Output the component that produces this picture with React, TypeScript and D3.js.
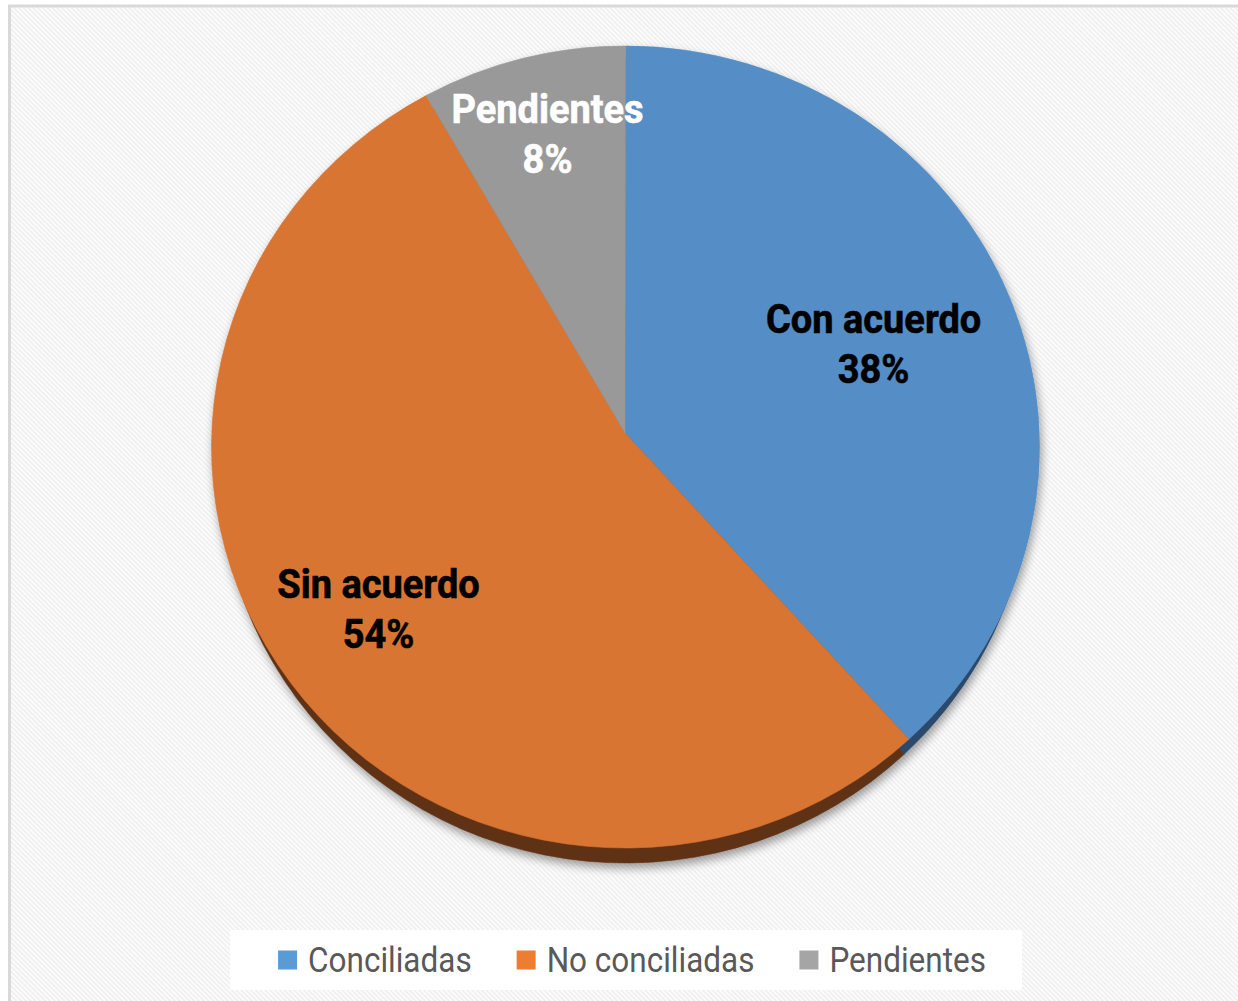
import React, { useEffect, useRef } from "react";
import * as d3 from "d3";

const categories = ["Conciliadas", "No conciliadas", "Pendientes"];
const values = [38, 54, 8];
const sliceLabels = ["Con acuerdo", "Sin acuerdo", "Pendientes"];
const percentLabels = ["38%", "54%", "8%"];

const faceColors = ["#548dc6", "#d97431", "#999999"];
const sideColors = ["#2a4a6c", "#5f3114", "#4d4d4d"];
const legendColors = ["#5b9bd5", "#ed7d31", "#a5a5a5"];
const labelColors = ["#000000", "#000000", "#ffffff"];

// label placement (fraction from apex toward rim at mid angle, plus nudge)
const labelLayout = [
  { f: 0.645, dx: 0, dy: -3 },
  { f: 0.737, dx: 0, dy: -8 },
  { f: 0.756, dx: 0, dy: -16 },
];

const W = 1238;
const H = 1001;

export default function App() {
  const ref = useRef<SVGSVGElement | null>(null);

  useEffect(() => {
    const svg = d3.select(ref.current);
    svg.selectAll("*").remove();

    const defs = svg.append("defs");
    const pat = defs
      .append("pattern")
      .attr("id", "hatch")
      .attr("patternUnits", "userSpaceOnUse")
      .attr("width", 3.4)
      .attr("height", 3.4)
      .attr("patternTransform", "rotate(-45)");
    pat.append("rect").attr("width", 3.4).attr("height", 3.4).attr("fill", "#fcfcfc");
    pat.append("rect").attr("width", 1.6).attr("height", 3.4).attr("fill", "#efefef");

    const filt = defs
      .append("filter")
      .attr("id", "shadow")
      .attr("x", "-10%")
      .attr("y", "-10%")
      .attr("width", "120%")
      .attr("height", "120%");
    filt.append("feGaussianBlur").attr("in", "SourceAlpha").attr("stdDeviation", 5).attr("result", "blur");
    filt.append("feOffset").attr("in", "blur").attr("dx", 2).attr("dy", 5).attr("result", "off");
    filt.append("feComponentTransfer").attr("in", "off").attr("result", "sh")
      .append("feFuncA").attr("type", "linear").attr("slope", 0.38);
    const merge = filt.append("feMerge");
    merge.append("feMergeNode").attr("in", "sh");
    merge.append("feMergeNode").attr("in", "SourceGraphic");

    // frame
    svg.append("rect").attr("x", 0).attr("y", 0).attr("width", W).attr("height", H).attr("fill", "#ffffff");
    svg
      .append("rect")
      .attr("x", 9.5)
      .attr("y", 6)
      .attr("width", 1260)
      .attr("height", 1020)
      .attr("fill", "url(#hatch)")
      .attr("stroke", "#d9d9d9")
      .attr("stroke-width", 3);

    // pie geometry (slightly tilted ellipse)
    const cx = 625.5, cy = 447, rx = 414, ry = 401;
    const apex = [625, 433];
    const depth = 15;
    const sideInset = 7;

    const pie = d3.pie<number>().sort(null).value((d) => d).startAngle(0).endAngle(2 * Math.PI);
    const arcs = pie(values);

    const pt = (t: number, dy = 0, inset = 0): [number, number] => [
      cx + (rx - inset) * Math.sin(t),
      cy - ry * Math.cos(t) + dy,
    ];

    const slicePath = (a0: number, a1: number, dy = 0, inset = 0) => {
      const p0 = pt(a0, dy, inset);
      const p1 = pt(a1, dy, inset);
      const large = a1 - a0 > Math.PI ? 1 : 0;
      return `M${apex[0]},${apex[1] + dy}L${p0[0]},${p0[1]}A${rx - inset},${ry} 0 ${large} 1 ${p1[0]},${p1[1]}Z`;
    };

    const g = svg.append("g").attr("filter", "url(#shadow)");
    g.selectAll("path.side")
      .data(arcs)
      .join("path")
      .attr("class", "side")
      .attr("d", (d) => slicePath(d.startAngle, d.endAngle, depth, sideInset))
      .attr("fill", (_d, i) => sideColors[i])
      .attr("stroke", (_d, i) => sideColors[i])
      .attr("stroke-width", 0.6);
    g.selectAll("path.face")
      .data(arcs)
      .join("path")
      .attr("class", "face")
      .attr("d", (d) => slicePath(d.startAngle, d.endAngle))
      .attr("fill", (_d, i) => faceColors[i])
      .attr("stroke", (_d, i) => faceColors[i])
      .attr("stroke-width", 0.6);

    // labels
    const lg = svg.append("g");
    arcs.forEach((d, i) => {
      const mid = (d.startAngle + d.endAngle) / 2;
      const rim = pt(mid);
      const L = labelLayout[i];
      const x = apex[0] + (rim[0] - apex[0]) * L.f + L.dx;
      const y = apex[1] + (rim[1] - apex[1]) * L.f + L.dy;
      const t = lg
        .append("g")
        .attr("transform", `translate(${x},${y}) scale(0.95,1)`)
        .style("font-family", "Roboto, sans-serif")
        .style("font-weight", 700)
        .style("font-size", "40px")
        .attr("fill", labelColors[i])
        .attr("stroke", labelColors[i])
        .attr("stroke-width", 0.6)
        .attr("text-anchor", "middle");
      t.append("text").attr("y", -11).text(sliceLabels[i]);
      t.append("text").attr("y", 39).text(percentLabels[i]);
    });

    // legend
    const legBox = { x: 230, y: 930, w: 792, h: 60 };
    svg
      .append("rect")
      .attr("x", legBox.x)
      .attr("y", legBox.y)
      .attr("width", legBox.w)
      .attr("height", legBox.h)
      .attr("fill", "#ffffff");
    const leg = svg.append("g");
    const sx = 0.9;
    const markerSize = 19;
    const gapMarker = 11;
    const gapItem = 45;
    const items = categories.map((c, i) => {
      const gi = leg.append("g");
      gi.append("rect")
        .attr("width", markerSize)
        .attr("height", markerSize)
        .attr("y", -markerSize / 2)
        .attr("fill", legendColors[i]);
      const txt = gi
        .append("text")
        .attr("transform", `translate(${markerSize + gapMarker},0) scale(${sx},1)`)
        .attr("dy", "0.35em")
        .style("font-family", "Roboto, sans-serif")
        .style("font-size", "35px")
        .attr("fill", "#595959")
        .text(c);
      const w = (txt.node() as SVGTextElement).getComputedTextLength() * sx;
      return { gi, width: markerSize + gapMarker + w };
    });
    const total = d3.sum(items, (d) => d.width) + gapItem * (items.length - 1);
    let x0 = 632 - total / 2;
    const ly = legBox.y + legBox.h / 2;
    items.forEach((it) => {
      it.gi.attr("transform", `translate(${x0},${ly})`);
      x0 += it.width + gapItem;
    });
  }, []);

  return (
    <svg
      ref={ref}
      width={W}
      height={H}
      style={{ position: "absolute", left: 0, top: 0, display: "block" }}
    />
  );
}
